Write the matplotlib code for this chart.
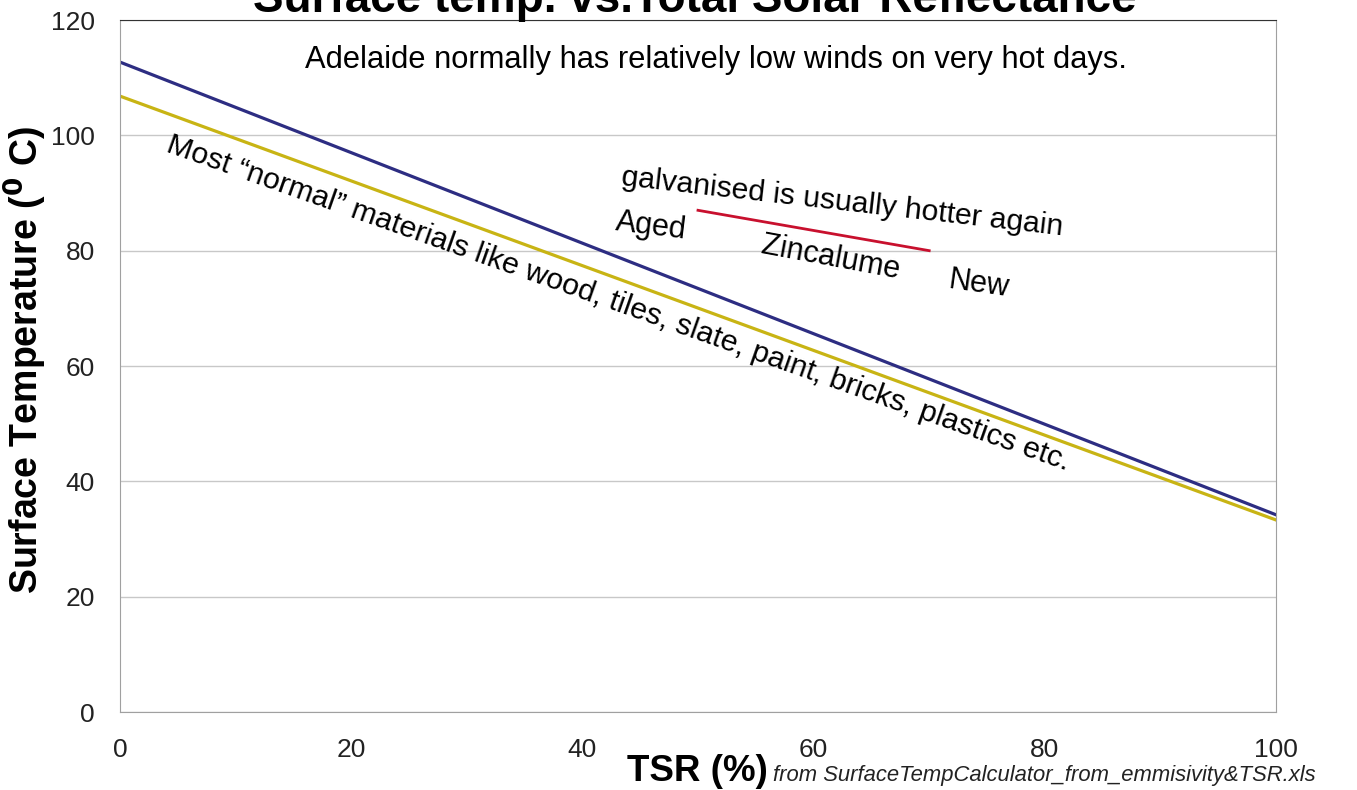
import matplotlib.pyplot as plt
import numpy as np

plt.rcParams['font.family'] = ['Liberation Sans', 'DejaVu Sans']

# data
tsr = [0, 100]
roof_hot = [112.7, 34.2]      # blue line
normal = [106.8, 33.3]        # yellow line
zinc_tsr = [50, 70]
zinc_temp = [87.0, 80.0]      # red line, aged -> new zincalume

yticks = [0, 20, 40, 60, 80, 100, 120]
xticks = [0, 20, 40, 60, 80, 100]

fig = plt.figure(figsize=(13.57, 7.90), dpi=100)
ax = fig.add_axes([120 / 1357, 1 - 712 / 790, 1156 / 1357, 692 / 790])

ax.plot(tsr, roof_hot, color="#2d2d82", lw=2.3)
ax.plot(tsr, normal, color="#c8b414", lw=2.3)
ax.plot(zinc_tsr, zinc_temp, color="#c8102e", lw=2.0)

ax.set_xlim(0, 100)
ax.set_ylim(0, 120)
ax.set_yticks(yticks)
ax.set_xticks(xticks)
ax.tick_params(axis='both', length=0, labelsize=19, colors="#222222")
ax.tick_params(axis='y', pad=18)
ax.tick_params(axis='x', pad=19)
ax.grid(axis='y', color="#c8c8c8", lw=1)
ax.set_axisbelow(True)
for s in ['left', 'bottom', 'right']:
    ax.spines[s].set_color("#a0a0a0")
ax.spines['top'].set_color("#333333")

# title is cut off at the top in the original
fig.text(695 / 1357, 1 - 12 / 790, "Surface temp. vs.Total Solar Reflectance",
         ha='center', va='baseline', fontsize=33, fontweight='bold')

ax.set_ylabel(r"Surface Temperature ($\mathbf{^0}$ C)", fontsize=27,
              fontweight='bold')
ax.yaxis.set_label_coords(-0.061, 0.509)

fig.text(627 / 1357, 1 - 781 / 790, "TSR (%)", fontsize=26.5,
         fontweight='bold', va='baseline')
fig.text(773 / 1357, 1 - 781 / 790,
         "from SurfaceTempCalculator_from_emmisivity&TSR.xls",
         fontsize=15.8, style='italic', va='baseline', color="#222222")

ax.text(51.6, 113.0, "Adelaide normally has relatively low winds on very hot days.",
        ha='center', va='center', fontsize=22.2)

ax.text(3.9, 97.2,
        "Most \u201cnormal\u201d materials like wood, tiles, slate, paint, bricks, plastics etc.",
        rotation=-19.5, rotation_mode='anchor', ha='left', va='baseline',
        fontsize=21.8)

ax.text(43.3, 91.4, "galvanised is usually hotter again", rotation=-6.5,
        rotation_mode='anchor', ha='left', va='baseline', fontsize=21.7)
ax.text(42.8, 83.6, "Aged", rotation=-7, rotation_mode='anchor',
        ha='left', va='baseline', fontsize=22)
ax.text(55.4, 79.6, "Zincalume", rotation=-10.5, rotation_mode='anchor',
        ha='left', va='baseline', fontsize=22)
ax.text(71.6, 73.5, "New", rotation=-8, rotation_mode='anchor',
        ha='left', va='baseline', fontsize=22)

fig.savefig("out.png", dpi=100)
